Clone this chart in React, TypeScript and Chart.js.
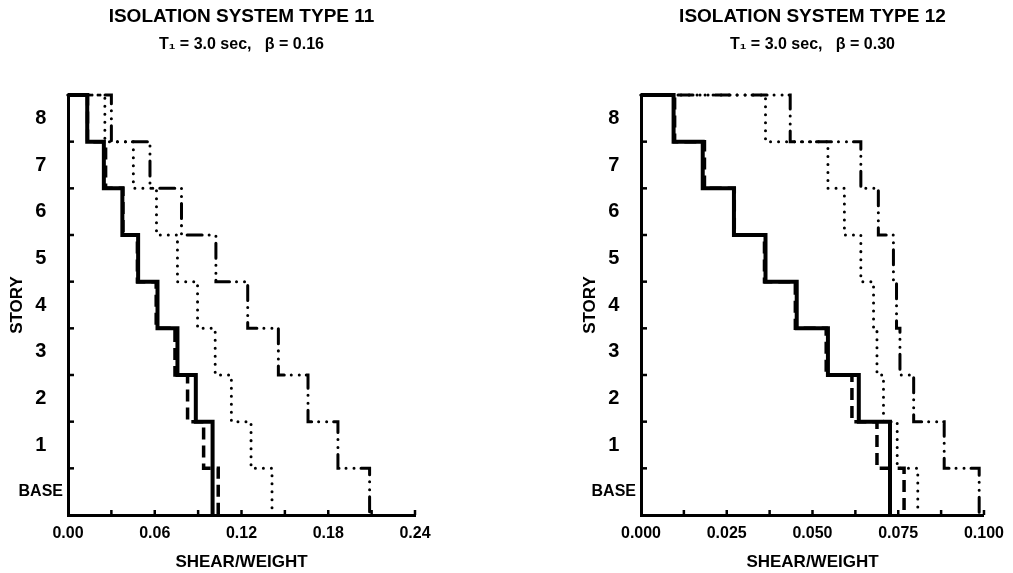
import React, { useEffect, useRef } from 'react';
import { Chart, registerables } from 'chart.js';

Chart.register(...registerables);

const storyLabels = ['BASE', '1', '2', '3', '4', '5', '6', '7', '8'];

const xTickLabels11 = ['0.00', '0.06', '0.12', '0.18', '0.24'];
const xTickLabels12 = ['0.000', '0.025', '0.050', '0.075', '0.100'];

// values per story, index 0 = BASE ... 8 = story 8
const solid11 = [0.1, 0.1, 0.0884, 0.0757, 0.0619, 0.0485, 0.0376, 0.0248, 0.0133];
const dashed11 = [0.1039, 0.0938, 0.0827, 0.074, 0.061, 0.048, 0.038, 0.026, 0.0135];
const dotted11 = [0.1411, 0.1266, 0.113, 0.1018, 0.0896, 0.0757, 0.0612, 0.0452, 0.0255];
const dashdot11 = [0.2086, 0.1867, 0.166, 0.1455, 0.1243, 0.1023, 0.0785, 0.0567, 0.03];

const solid12 = [0.0726, 0.0726, 0.0635, 0.0545, 0.0454, 0.0363, 0.0271, 0.018, 0.0095];
const dashed12 = [0.0767, 0.0688, 0.0615, 0.054, 0.045, 0.036, 0.0272, 0.0185, 0.0098];
const dotted12 = [0.0807, 0.0747, 0.0707, 0.0688, 0.0678, 0.0641, 0.0593, 0.0545, 0.0363];
const dashdot12 = [0.0986, 0.0884, 0.0795, 0.0755, 0.0745, 0.0736, 0.0692, 0.0641, 0.0435];

const FONT = "'Liberation Sans', 'DejaVu Sans', Arial, sans-serif";

function stepPoints(values: number[]) {
  const top = values.length;
  const pts: { x: number; y: number }[] = [{ x: 0, y: top }];
  for (let k = top - 1; k >= 0; k--) {
    pts.push({ x: values[k], y: k + 1 });
    pts.push({ x: values[k], y: k });
  }
  return pts;
}

const lineStyles = [
  { borderWidth: 4, borderDash: [] as number[], borderCapStyle: 'butt' },
  { borderWidth: 3.5, borderDash: [12, 6], borderCapStyle: 'butt' },
  { borderWidth: 3, borderDash: [0.01, 8], borderCapStyle: 'round' },
  { borderWidth: 3, borderDash: [15, 7, 0.01, 8, 0.01, 7], borderCapStyle: 'round' },
];

const innerTicks = {
  id: 'innerTicks',
  afterDraw(chart: any) {
    const { ctx, chartArea, scales } = chart;
    const x = scales.x;
    const y = scales.y;
    ctx.save();
    ctx.strokeStyle = '#000';
    ctx.lineWidth = 2.5;
    x.ticks.forEach((t: any) => {
      if (t.value <= x.min + 1e-9) return;
      const px = x.getPixelForValue(t.value);
      ctx.beginPath();
      ctx.moveTo(px, chartArea.bottom);
      ctx.lineTo(px, chartArea.bottom - 5);
      ctx.stroke();
    });
    for (let k = 1; k < storyLabels.length; k++) {
      const py = y.getPixelForValue(k);
      ctx.beginPath();
      ctx.moveTo(chartArea.left, py);
      ctx.lineTo(chartArea.left + 6, py);
      ctx.stroke();
    }
    ctx.restore();
  },
};

type PanelProps = {
  title: string;
  subtitle: string;
  series: number[][];
  xMax: number;
  xStep: number;
  xLabels: string[];
  padRight: number;
};

function Panel({ title, subtitle, series, xMax, xStep, xLabels, padRight }: PanelProps) {
  const ref = useRef<HTMLCanvasElement | null>(null);
  useEffect(() => {
    if (!ref.current) return;
    const chart = new Chart(ref.current, {
      type: 'line',
      data: {
        datasets: series.map((vals, i) => ({
          data: stepPoints(vals),
          borderColor: '#000',
          backgroundColor: '#000',
          borderWidth: lineStyles[i].borderWidth,
          borderDash: lineStyles[i].borderDash,
          borderCapStyle: lineStyles[i].borderCapStyle as any,
          borderJoinStyle: 'miter',
          pointRadius: 0,
          tension: 0,
          fill: false,
          clip: false as any,
        })),
      },
      plugins: [innerTicks],
      options: {
        animation: false,
        responsive: true,
        maintainAspectRatio: false,
        devicePixelRatio: 1,
        events: [],
        layout: { padding: { left: 0, right: padRight, top: 0, bottom: 0 } },
        plugins: {
          legend: { display: false },
          tooltip: { enabled: false },
          title: {
            display: true,
            text: title,
            fullSize: false,
            color: '#000',
            font: { family: FONT, size: 19, weight: 'bold', lineHeight: 1.1 },
            padding: { top: 6.5, bottom: 8 },
          },
          subtitle: {
            display: true,
            text: subtitle,
            fullSize: false,
            color: '#000',
            font: { family: FONT, size: 16, weight: 'bold', lineHeight: 1.2 },
            padding: { top: 0, bottom: 40.4 },
          },
        },
        scales: {
          x: {
            type: 'linear',
            min: 0,
            max: xMax,
            grid: { display: false, drawTicks: false },
            border: { display: true, color: '#000', width: 3 },
            ticks: {
              stepSize: xStep,
              autoSkip: false,
              maxRotation: 0,
              padding: 9,
              color: '#000',
              font: { family: FONT, size: 16, weight: 'bold' },
              callback: (_v: any, i: number) => (i % 2 === 0 ? xLabels[i / 2] : ''),
            },
            title: {
              display: true,
              text: 'SHEAR/WEIGHT',
              color: '#000',
              font: { family: FONT, size: 17, weight: 'bold', lineHeight: 1.2 },
              padding: { top: 0, bottom: 0 },
            },
            afterFit: (s: any) => {
              s.height = 58;
            },
          },
          y: {
            type: 'linear',
            min: 0,
            max: storyLabels.length,
            grid: { display: false, drawTicks: false },
            border: { display: true, color: '#000', width: 3 },
            afterBuildTicks: (s: any) => {
              s.ticks = storyLabels.map((_l, i) => ({ value: i + 0.5 }));
            },
            ticks: {
              autoSkip: false,
              crossAlign: 'center',
              padding: 5,
              color: '#000',
              font: (ctx: any) => ({
                family: FONT,
                weight: 'bold',
                size: ctx.index === 0 ? 16 : 20,
              }),
              callback: (_v: any, i: number) => storyLabels[i],
            },
            title: {
              display: true,
              text: 'STORY',
              color: '#000',
              font: { family: FONT, size: 17, weight: 'bold', lineHeight: 1.2 },
              padding: { top: 7, bottom: 0 },
            },
            afterFit: (s: any) => {
              s.width = 68;
            },
          },
        },
      } as any,
    });
    return () => chart.destroy();
  }, []);
  return <canvas ref={ref} style={{ display: 'block' }} />;
}

export default function App() {
  return (
    <div style={{ position: 'absolute', left: 0, top: 0, width: 1013, height: 573, background: '#fff' }}>
      <div style={{ position: 'absolute', left: 0, top: 0, width: 480, height: 573 }}>
        <Panel
          title="ISOLATION SYSTEM TYPE 11"
          subtitle={'T\u2081 = 3.0 sec,   \u03B2 = 0.16'}
          series={[solid11, dashed11, dotted11, dashdot11]}
          xMax={0.24}
          xStep={0.03}
          xLabels={xTickLabels11}
          padRight={65}
        />
      </div>
      <div style={{ position: 'absolute', left: 573, top: 0, width: 440, height: 573 }}>
        <Panel
          title="ISOLATION SYSTEM TYPE 12"
          subtitle={'T\u2081 = 3.0 sec,   \u03B2 = 0.30'}
          series={[solid12, dashed12, dotted12, dashdot12]}
          xMax={0.1}
          xStep={0.0125}
          xLabels={xTickLabels12}
          padRight={26}
        />
      </div>
    </div>
  );
}
